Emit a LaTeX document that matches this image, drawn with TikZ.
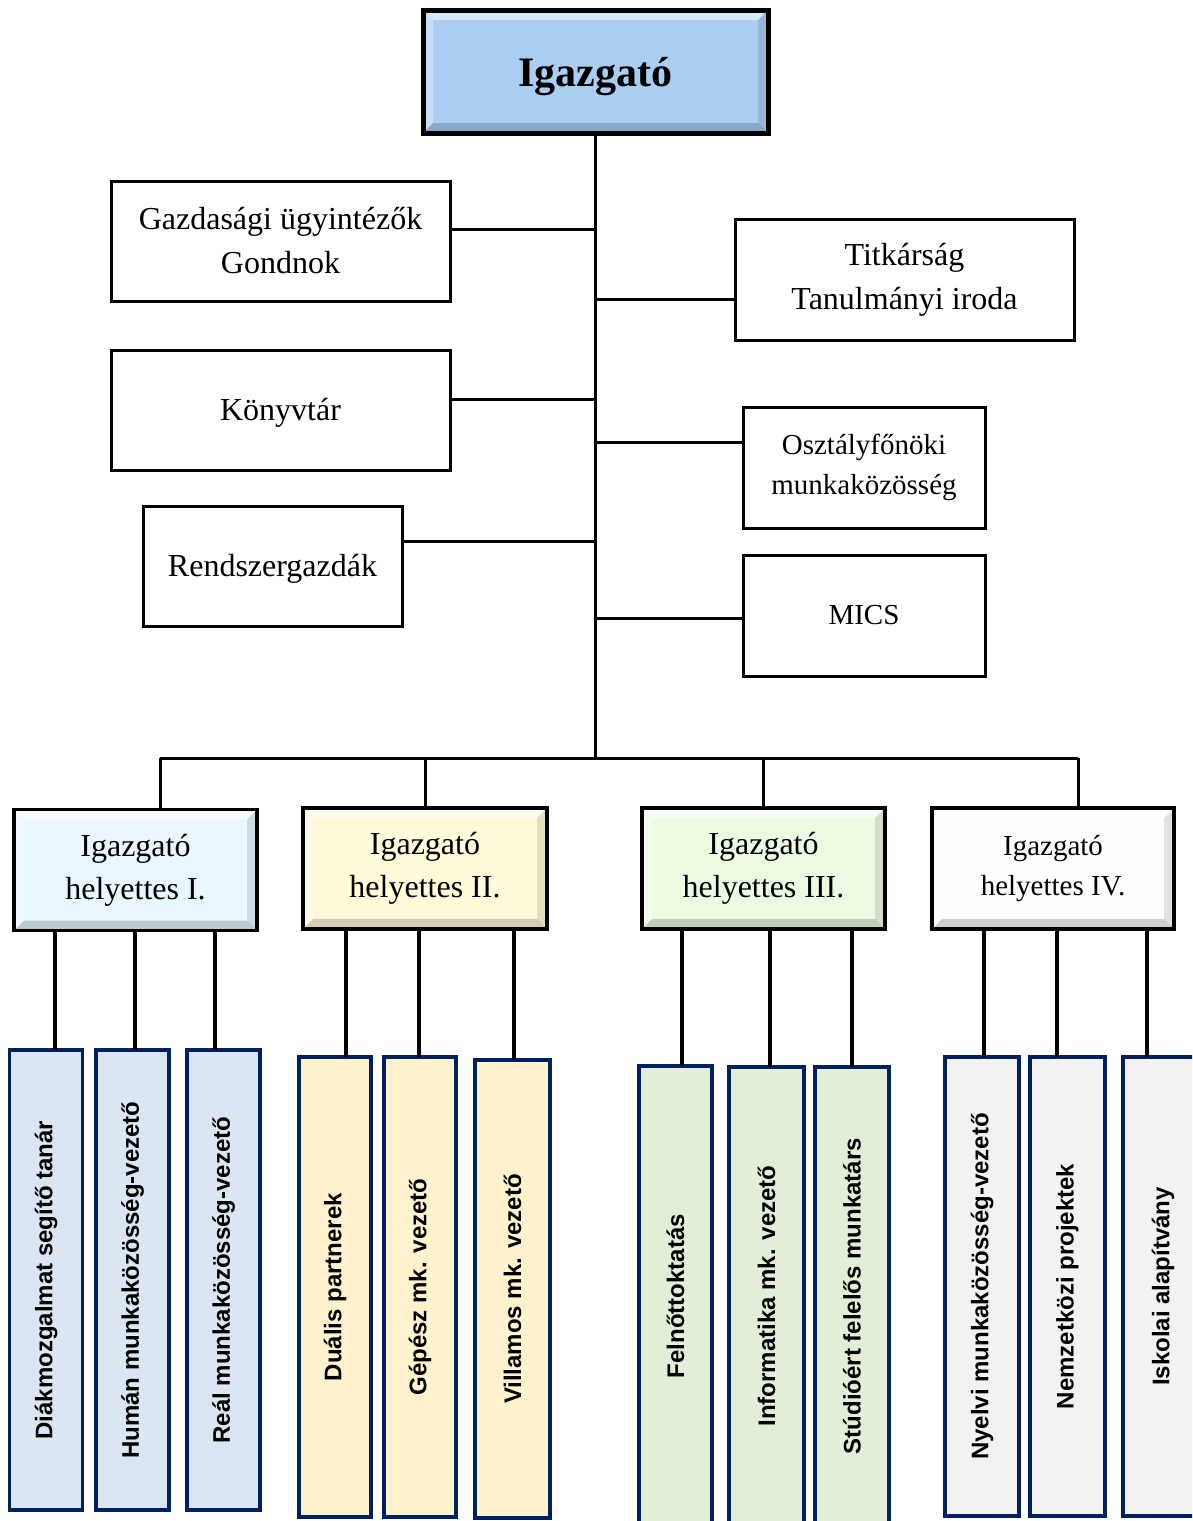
\documentclass[tikz,border=0pt]{standalone}
\usepackage{fontspec}
\usepackage{graphicx}
\setmainfont{Liberation Serif}
\newfontfamily\sansb{Liberation Sans}
\definecolor{topfill}{RGB}{169,206,242}
\definecolor{dIfill}{RGB}{234,246,254}
\definecolor{dIIfill}{RGB}{255,250,218}
\definecolor{dIIIfill}{RGB}{236,250,226}
\definecolor{dIVfill}{RGB}{253,253,253}
\definecolor{gIfill}{RGB}{220,230,242}
\definecolor{gIIfill}{RGB}{255,242,204}
\definecolor{gIIIfill}{RGB}{226,238,216}
\definecolor{gIVfill}{RGB}{242,242,242}
\definecolor{navy}{RGB}{0,32,96}
\newcommand\bevel[2]{%
  \fill[white,opacity=.55] (#1.north west) -- (#1.north east) -- ([shift={(-10,10)}]#1.north east) -- ([shift={(10,10)}]#1.north west) -- cycle;
  \fill[white,opacity=.35] (#1.north west) -- ([shift={(10,10)}]#1.north west) -- ([shift={(10,-10)}]#1.south west) -- (#1.south west) -- cycle;
  \fill[black,opacity=.11] (#1.north east) -- (#1.south east) -- ([shift={(-10,-10)}]#1.south east) -- ([shift={(-10,10)}]#1.north east) -- cycle;
  \fill[black,opacity=.18] (#1.south west) -- (#1.south east) -- ([shift={(-10,-10)}]#1.south east) -- ([shift={(10,-10)}]#1.south west) -- cycle;
  \draw[line width=#2] (#1.north west) rectangle (#1.south east);
}
\newcommand\low[2]{\raisebox{-#1}[\height][\depth]{#2}}
\begin{document}
\begin{tikzpicture}[x=1pt,y=-1pt,
  conn/.style={line width=3pt,black},
  vconn/.style={line width=3.5pt,black},
  plain/.style={draw=black,line width=3pt,fill=white,inner sep=0pt,outer sep=0pt,align=center,font=\fontsize{32}{44}\selectfont},
  small/.style={plain,font=\fontsize{29}{40}\selectfont},
  topbox/.style={fill=topfill,inner sep=0pt,outer sep=0pt,minimum width=345pt,minimum height=123pt,font=\fontsize{42}{50}\selectfont\bfseries},
  dep/.style={inner sep=0pt,outer sep=0pt,align=center,minimum width=243pt,minimum height=121pt,font=\fontsize{32}{43}\selectfont},
  vbox/.style={draw=navy,line width=3.5pt,inner sep=0pt,outer sep=0pt,minimum height=460pt,font=\sansb\bfseries\fontsize{24}{28}\selectfont},
]
\useasboundingbox (0,0) rectangle (1192,1521);
\clip (0,0) rectangle (1192,1521);

% top level
\node[topbox] (top) at (595.5,71.5) {\low{5pt}{Igazgató}};
\bevel{top}{5pt}

\node[plain,minimum width=339pt,minimum height=120pt] (gaz) at (280.5,241) {Gazdasági ügyintézők\\Gondnok};
\node[plain,minimum width=339pt,minimum height=120pt] (kony) at (280.5,410) {\low{3pt}{Könyvtár}};
\node[plain,minimum width=259pt,minimum height=120pt] (rend) at (272.5,566) {\low{3pt}{Rendszergazdák}};
\node[plain,minimum width=339pt,minimum height=121pt] (titk) at (904.5,280) {Titkárság\\Tanulmányi iroda};
\node[small,minimum width=242pt,minimum height=121pt] (oszt) at (864,467.5) {Osztályfőnöki\\munkaközösség};
\node[small,minimum width=242pt,minimum height=121pt] (mics) at (864,615.5) {MICS};

% deputies
\node[dep,fill=dIfill] (dep1) at (135.5,870) {Igazgató\\helyettes I.};
\bevel{dep1}{3.5pt}
\node[dep,fill=dIIfill,minimum width=244pt] (dep2) at (425,868.5) {Igazgató\\helyettes II.};
\bevel{dep2}{3.5pt}
\node[dep,fill=dIIIfill] (dep3) at (763.5,868.5) {Igazgató\\helyettes III.};
\bevel{dep3}{3.5pt}
\node[dep,fill=dIVfill,minimum width=242pt,font=\fontsize{29}{40}\selectfont] (dep4) at (1053,868.5) {Igazgató\\helyettes IV.};
\bevel{dep4}{3.5pt}

% bottom boxes
\node[vbox,fill=gIfill,minimum width=73pt] (b1) at (46,1280) {\rotatebox{90}{Diákmozgalmat segítő tanár}};
\node[vbox,fill=gIfill,minimum width=73pt] (b2) at (132.5,1280) {\rotatebox{90}{Humán munkaközösség-vezető}};
\node[vbox,fill=gIfill,minimum width=73pt] (b3) at (223.5,1280) {\rotatebox{90}{Reál munkaközösség-vezető}};
\node[vbox,fill=gIIfill,minimum width=72pt] (c1) at (335,1287) {\rotatebox{90}{Duális partnerek}};
\node[vbox,fill=gIIfill,minimum width=72pt] (c2) at (420,1287) {\rotatebox{90}{Gépész mk. vezető}};
\node[vbox,fill=gIIfill,minimum width=75pt,minimum height=458pt] (c3) at (512.5,1289) {\rotatebox{90}{Villamos mk. vezető}};
\node[vbox,fill=gIIIfill,minimum width=73pt] (d1) at (675.5,1296) {\rotatebox{90}{Felnőttoktatás}};
\node[vbox,fill=gIIIfill,minimum width=75pt,minimum height=458pt] (d2) at (766.5,1296) {\rotatebox{90}{Informatika mk. vezető}};
\node[vbox,fill=gIIIfill,minimum width=74pt,minimum height=458pt] (d3) at (852,1296) {\rotatebox{90}{Stúdióért felelős munkatárs}};
\node[vbox,fill=gIVfill,minimum width=74pt,minimum height=459pt] (e1) at (982,1286.5) {\rotatebox{90}{Nyelvi munkaközösség-vezető}};
\node[vbox,fill=gIVfill,minimum width=75pt,minimum height=459pt] (e2) at (1067.5,1286.5) {\rotatebox{90}{Nemzetközi projektek}};
\node[vbox,fill=gIVfill,minimum width=80pt,minimum height=459pt] (e3) at (1163,1286.5) {\rotatebox{90}{Iskolai alapítvány}};

% connectors
\coordinate (bus) at (0,758);
\draw[conn] (top.south) -- (top.south |- bus);
\foreach \n/\y in {gaz/229,kony/399,rend/541}{
  \coordinate (tmp) at (0,\y);
  \draw[conn] (\n.east |- tmp) -- (top.south |- tmp);
}
\foreach \n/\y in {titk/299,oszt/442,mics/618}{
  \coordinate (tmp) at (0,\y);
  \draw[conn] (top.south |- tmp) -- (\n.west |- tmp);
}
\coordinate (h1) at (160,0);
\coordinate (h4) at (1078,0);
\draw[conn] (h1 |- bus) -- (h4 |- bus);
\draw[conn] (h1 |- bus) -- (h1 |- dep1.north);
\draw[conn] (dep2.north |- bus) -- (dep2.north);
\draw[conn] (dep3.north |- bus) -- (dep3.north);
\draw[conn] (h4 |- bus) -- (h4 |- dep4.north);

\foreach \x/\d/\b in {55/dep1/b1,135/dep1/b2,215/dep1/b3,346/dep2/c1,419/dep2/c2,514/dep2/c3,682/dep3/d1,770/dep3/d2,852/dep3/d3,984/dep4/e1,1057/dep4/e2,1147/dep4/e3}{
  \coordinate (tmp) at (\x,0);
  \draw[vconn] (tmp |- \d.south) -- (tmp |- \b.north);
}
\end{tikzpicture}
\end{document}
